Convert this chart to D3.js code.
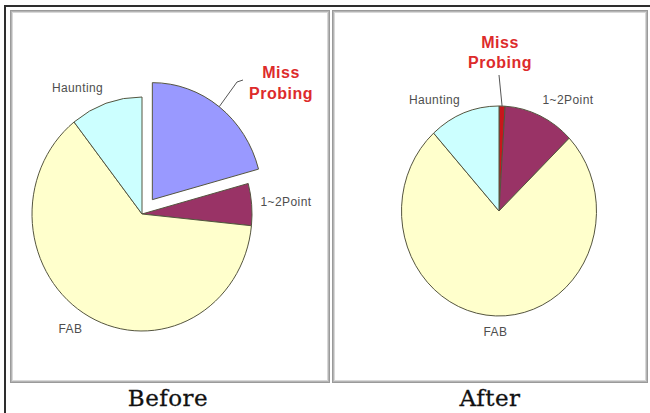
<!DOCTYPE html>
<html>
<head>
<meta charset="utf-8">
<script src="https://cdn.jsdelivr.net/npm/d3@7"></script>
<style>
  html, body { margin: 0; padding: 0; background: #fff; }
  svg { display: block; }
</style>
</head>
<body>
<svg id="chart" width="650" height="413"></svg>
<script>
// Defect share by cause, before and after the process change
const categories   = ["Miss Probing", "1~2Point", "FAB", "Haunting"];
const beforeValues = [20.8, 5.8, 62.8, 10.6];
const afterValues  = [1.0, 11.8, 75.5, 11.7];
const panelTitles  = ["Before", "After"];

// Slice fills per category (the highlighted cause changes colour after the fix)
const beforeColors = ["#9999ff", "#993366", "#ffffcc", "#ccffff"];
const afterColors  = ["#c8161b", "#993366", "#ffffcc", "#ccffff"];

// Layout of the two panels
const panels = [
  {
    title: panelTitles[0], values: beforeValues, colors: beforeColors,
    frame: { x0: 10, y0: 10, x1: 330, y1: 383 },
    cx: 142, cy: 214, rx: 110, ry: 117, explode: 17, titleX: 168,
    labels: {
      "Haunting": [77.5, 92], "1~2Point": [286, 206], "FAB": [70.5, 333]
    },
    miss: { x: 281, y1: 78, y2: 99 },
    leader: [[237, 82], [243, 80]]
  },
  {
    title: panelTitles[1], values: afterValues, colors: afterColors,
    frame: { x0: 332, y0: 10, x1: 648, y1: 383 },
    cx: 499, cy: 211, rx: 97.5, ry: 105, explode: 0, titleX: 490,
    labels: {
      "Haunting": [434.5, 104], "1~2Point": [568, 104], "FAB": [495.5, 336]
    },
    miss: { x: 500, y1: 48, y2: 68 },
    leader: [[499, 75]]
  }
];

const svg = d3.select("#chart");

// Outer frame of the figure
svg.append("line").attr("x1", 4).attr("x2", 650).attr("y1", 6).attr("y2", 6)
  .attr("stroke", "#2e2e2e").attr("stroke-width", 2);
svg.append("line").attr("x1", 5).attr("x2", 5).attr("y1", 5).attr("y2", 413)
  .attr("stroke", "#2e2e2e").attr("stroke-width", 2);

const pie = d3.pie().sort(null).value(d => d);

panels.forEach(p => {
  const g = svg.append("g");

  // Bevelled panel border
  [["#9a9a9a", 0.5], ["#b4b4b4", 1.5], ["#d8d8d8", 2.5]].forEach(([c, o]) => {
    g.append("rect")
      .attr("x", p.frame.x0 + o).attr("y", p.frame.y0 + o)
      .attr("width", p.frame.x1 - p.frame.x0 - 2 * o)
      .attr("height", p.frame.y1 - p.frame.y0 - 2 * o)
      .attr("fill", "none").attr("stroke", c).attr("stroke-width", 1);
  });

  const arcs = pie(p.values);
  const arc = d3.arc().innerRadius(0).outerRadius(p.rx);
  const sy = p.ry / p.rx;

  const pieG = g.append("g")
    .attr("transform", `translate(${p.cx},${p.cy}) scale(1,${sy})`);

  pieG.selectAll("path")
    .data(arcs)
    .join("path")
    .attr("d", arc)
    .attr("transform", (d, i) => {
      if (i !== 0 || !p.explode) return null;
      const m = (d.startAngle + d.endAngle) / 2;
      return `translate(${p.explode * Math.sin(m)},${-p.explode * Math.cos(m)})`;
    })
    .attr("fill", (d, i) => p.colors[i])
    .attr("stroke", "#55553f")
    .attr("stroke-width", 1)
    .attr("vector-effect", "non-scaling-stroke")
    .attr("stroke-linejoin", "round");

  // Category labels
  categories.slice(1).forEach(name => {
    const [x, y] = p.labels[name];
    g.append("text")
      .attr("x", x).attr("y", y)
      .attr("text-anchor", "middle")
      .attr("font-family", "Arial, 'Liberation Sans', sans-serif")
      .attr("font-size", 12)
      .attr("letter-spacing", 0.4)
      .attr("fill", "#4e4e4e")
      .text(name);
  });

  // Highlighted cause label with leader line from the slice's outer edge
  const ms = arcs[0];
  const mid = (ms.startAngle + ms.endAngle) / 2;
  const ex = p.explode * Math.sin(mid), ey = -p.explode * Math.cos(mid) * sy;
  const start = [p.cx + ex + p.rx * Math.sin(mid), p.cy + ey - p.ry * Math.cos(mid)];
  g.append("path")
    .attr("d", d3.line()([start, ...p.leader]))
    .attr("fill", "none").attr("stroke", "#555").attr("stroke-width", 1);

  const words = categories[0].split(" ");
  [p.miss.y1, p.miss.y2].forEach((y, i) => {
    g.append("text")
      .attr("x", p.miss.x).attr("y", y)
      .attr("text-anchor", "middle")
      .attr("font-family", "Arial, 'Liberation Sans', sans-serif")
      .attr("font-weight", "bold")
      .attr("font-size", 16)
      .attr("letter-spacing", 0.5)
      .attr("fill", "#dd2b2b")
      .text(words[i]);
  });

  // Panel caption
  g.append("text")
    .attr("x", p.titleX).attr("y", 406)
    .attr("text-anchor", "middle")
    .attr("font-family", "'DejaVu Serif', 'Liberation Serif', serif")
    .attr("font-size", 23)
    .attr("letter-spacing", 0.5)
    .attr("fill", "#111")
    .attr("stroke", "#111").attr("stroke-width", 0.3)
    .text(p.title);
});
</script>
</body>
</html>
